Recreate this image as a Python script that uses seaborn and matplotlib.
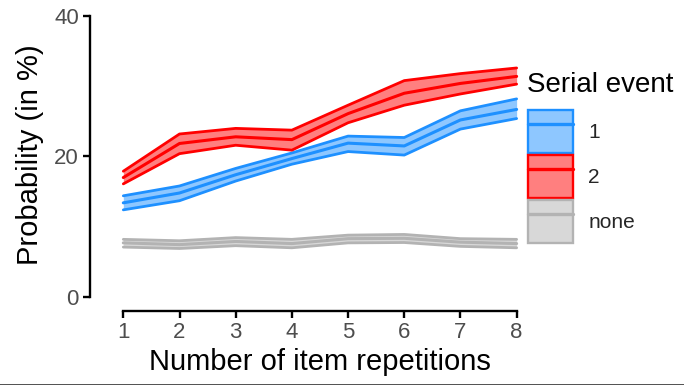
import matplotlib
matplotlib.use("Agg")
import matplotlib.pyplot as plt
import seaborn as sns
import pandas as pd
import numpy as np
from matplotlib.patches import Patch
from matplotlib.lines import Line2D
from matplotlib.legend_handler import HandlerTuple

x_reps = [1, 2, 3, 4, 5, 6, 7, 8]
series = ["1", "2", "none"]
mean_1 = [13.4, 14.8, 17.4, 19.7, 21.9, 21.5, 25.2, 26.7]
low_1 = [12.4, 13.7, 16.5, 18.9, 20.7, 20.2, 23.9, 25.4]
high_1 = [14.4, 15.8, 18.3, 20.5, 22.9, 22.7, 26.5, 28.2]
mean_2 = [17.0, 21.85, 22.8, 22.4, 26.1, 29.0, 30.4, 31.4]
low_2 = [16.1, 20.4, 21.6, 20.9, 24.8, 27.3, 28.9, 30.3]
high_2 = [17.9, 23.2, 24.0, 23.75, 27.3, 30.8, 31.8, 32.6]
mean_none = [7.7, 7.45, 7.9, 7.6, 8.3, 8.35, 7.8, 7.6]
low_none = [7.1, 6.9, 7.3, 7.0, 7.7, 7.75, 7.2, 7.0]
high_none = [8.2, 8.0, 8.45, 8.2, 8.8, 8.9, 8.3, 8.2]
y_ticks = [0, 20, 40]

colors = {"1": "#1E90FF", "2": "#FF0000", "none": "#B3B3B3"}

rows = []
for s, m, lo, hi in [("1", mean_1, low_1, high_1), ("2", mean_2, low_2, high_2),
                     ("none", mean_none, low_none, high_none)]:
    for xi, a, b, c in zip(x_reps, m, lo, hi):
        rows.append({"x": xi, "series": s, "mean": a, "low": b, "high": c})
df = pd.DataFrame(rows)

sns.set_style("ticks")
plt.rcParams["font.family"] = ["Liberation Sans", "DejaVu Sans"]

fig = plt.figure(figsize=(6.84, 3.85), dpi=100)
ax = fig.add_axes([90 / 684, 1 - 311 / 385, 430 / 684, (311 - 16) / 385])

for s in series:
    d = df[df["series"] == s]
    c = colors[s]
    ax.fill_between(d["x"], d["low"], d["high"], color=c, alpha=0.5, linewidth=0, zorder=2)
    for col, lw in [("low", 2.0), ("high", 2.0), ("mean", 2.2)]:
        sns.lineplot(data=d, x="x", y=col, color=c, linewidth=lw, ax=ax, zorder=3,
                     legend=False)

ax.set_xlim(0.407, 8.06)
ax.set_ylim(-2, 40)
ax.set_xticks(x_reps)
ax.set_yticks(y_ticks)
ax.spines["left"].set_bounds(0, 40)
ax.spines["bottom"].set_bounds(1, 8)
for sp in ["top", "right"]:
    ax.spines[sp].set_visible(False)
for sp in ["left", "bottom"]:
    ax.spines[sp].set_linewidth(1.7)
    ax.spines[sp].set_color("black")
ax.tick_params(axis="both", length=5, width=1.7, color="black", labelcolor="#4D4D4D",
               labelsize=16, pad=3)
ax.set_xlabel("Number of item repetitions", fontsize=21, color="black")
ax.set_ylabel("Probability (in %)", fontsize=21, color="black")
ax.xaxis.set_label_coords(0.535, -0.125)
ax.yaxis.set_label_coords(-0.108, 0.53)

handles = []
for s in series:
    c = colors[s]
    handles.append((Patch(facecolor=c, alpha=0.5, edgecolor="none"),
                    Patch(facecolor="none", edgecolor=c, linewidth=1.7),
                    Line2D([], [], color=c, linewidth=2.4)))
fig.text(527 / 684, 1 - 92 / 385, "Serial event", fontsize=20, color="black",
         ha="left", va="baseline")
leg = fig.legend(handles, series, loc="upper left",
                 bbox_to_anchor=(528 / 684, 1 - 110 / 385), frameon=False,
                 fontsize=15, handlelength=2.15, handleheight=2.8,
                 handletextpad=0.75, labelspacing=0.1, borderaxespad=0, borderpad=0,
                 handler_map={tuple: HandlerTuple(ndivide=1)})

fig.add_artist(Line2D([0, 1], [0.5 / 385, 0.5 / 385], color="#333333", linewidth=1.2,
                      transform=fig.transFigure))

fig.savefig("out.png", dpi=100)
